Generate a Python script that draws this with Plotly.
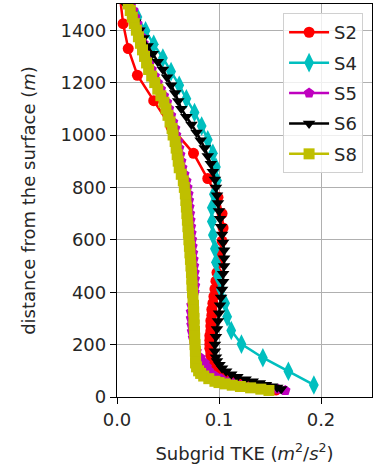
import plotly.graph_objects as go

# ---------------- data ----------------
s2_z = [1525, 1425, 1330, 1228, 1131, 1030, 930, 834, 762, 700, 645, 595, 550, 510, 475, 442,
        412, 384, 358, 334, 312, 291, 271, 252, 234, 217, 201, 186, 172, 159, 147, 136,
        125, 115, 105, 96, 87, 79, 71, 64, 57, 50, 44, 38, 32, 27]
s2_x = [0.003, 0.006, 0.011, 0.020, 0.036, 0.053, 0.075, 0.089, 0.099, 0.103, 0.104, 0.103,
        0.101, 0.099, 0.098, 0.097, 0.096, 0.095, 0.094, 0.093, 0.093, 0.092, 0.092, 0.092,
        0.091, 0.091, 0.091, 0.091, 0.092, 0.092, 0.093, 0.094, 0.095, 0.096, 0.098, 0.100,
        0.102, 0.105, 0.109, 0.114, 0.120, 0.127, 0.134, 0.141, 0.149, 0.156]

s4_z = [46, 98, 150, 202, 254, 306, 358, 410, 462, 514, 566, 618, 670, 722, 774, 826,
        878, 930, 982, 1034, 1086, 1138, 1190, 1242, 1294, 1346, 1398, 1450, 1502]
s4_x = [0.193, 0.168, 0.143, 0.122, 0.112, 0.108, 0.106, 0.102, 0.099, 0.097, 0.096, 0.094,
        0.093, 0.093, 0.095, 0.098, 0.097, 0.094, 0.089, 0.083, 0.076, 0.068, 0.061, 0.053,
        0.045, 0.036, 0.028, 0.020, 0.013]

s8_z = [25, 30, 35, 40, 45, 50, 55, 60, 70, 80, 90, 100, 115, 130, 150,
        175, 200, 225, 250, 275, 300, 325, 350, 375, 400, 425, 450, 475, 500, 525, 550,
        575, 600, 625, 650, 675, 700, 725, 750, 775, 800, 825, 850, 875, 900, 925, 950,
        975, 1000, 1025, 1050, 1075, 1100, 1125, 1150, 1175, 1200, 1225, 1250, 1275, 1300,
        1325, 1350, 1375, 1400, 1425, 1450, 1475, 1500]
s8_x = [0.149, 0.141, 0.131, 0.121, 0.113, 0.106, 0.100, 0.096, 0.090, 0.085, 0.082, 0.080,
        0.078, 0.077, 0.077,
        0.0768, 0.0765, 0.0762, 0.0760, 0.0757, 0.0755, 0.0752, 0.0750, 0.0745, 0.0740,
        0.0736, 0.0733, 0.0730, 0.0725, 0.0720, 0.0715, 0.0710, 0.0705, 0.0700, 0.0695,
        0.0690, 0.0685, 0.0680, 0.0675, 0.0670, 0.0660, 0.0650, 0.0630, 0.0610, 0.0600,
        0.0590, 0.0580, 0.0570, 0.0550, 0.0540, 0.0520, 0.0500, 0.0480, 0.0460, 0.0430,
        0.0400, 0.0370, 0.0340, 0.0310, 0.0290, 0.0270, 0.0250, 0.0230, 0.0210, 0.0190,
        0.0170, 0.0150, 0.0130, 0.0110]

s5_z = s8_z
s5_x = [0.165, 0.158, 0.150, 0.141, 0.132, 0.124, 0.116, 0.110, 0.102, 0.096, 0.092, 0.090,
        0.088, 0.086, 0.082,
        0.0780, 0.0760, 0.0745, 0.0735, 0.0730, 0.0725, 0.0725, 0.0730, 0.0740, 0.0760,
        0.0765, 0.0763, 0.0760, 0.0755, 0.0750, 0.0745, 0.0740, 0.0735, 0.0730, 0.0725,
        0.0720, 0.0715, 0.0710, 0.0705, 0.0700, 0.0690, 0.0680, 0.0660, 0.0640, 0.0630,
        0.0620, 0.0610, 0.0600, 0.0580, 0.0570, 0.0550, 0.0530, 0.0510, 0.0490, 0.0460,
        0.0430, 0.0400, 0.0370, 0.0340, 0.0320, 0.0300, 0.0280, 0.0260, 0.0240, 0.0220,
        0.0200, 0.0180, 0.0160, 0.0140]

s6_z = [31, 36, 41, 47, 53, 60, 68, 77, 87, 98, 110, 123, 137, 152, 175,
        200, 230, 260, 290, 320, 350, 380, 410, 440, 470, 500, 530, 560, 590, 620, 650,
        680, 710, 740, 770, 800, 830, 860, 890, 920, 950, 980, 1010, 1040, 1070, 1100,
        1130, 1160, 1190, 1220, 1250, 1280, 1310, 1340, 1370, 1400, 1430, 1460, 1490]
s6_x = [0.161, 0.157, 0.152, 0.146, 0.140, 0.133, 0.126, 0.118, 0.112, 0.107, 0.103, 0.1005,
        0.098, 0.097, 0.096,
        0.096, 0.097, 0.098, 0.099, 0.100, 0.101, 0.102, 0.103, 0.104, 0.104, 0.105, 0.105,
        0.105, 0.104, 0.103, 0.102, 0.101, 0.100, 0.099, 0.098, 0.097, 0.096, 0.094, 0.092,
        0.089, 0.086, 0.082, 0.078, 0.073, 0.068, 0.063, 0.060, 0.057, 0.053, 0.049, 0.045,
        0.040, 0.035, 0.030, 0.026, 0.022, 0.018, 0.014, 0.010]

series = [
    ("S2", s2_x, s2_z, "#ff0000", "circle", 11),
    ("S4", s4_x, s4_z, "#00bfbf", "diamond-tall", 14),
    ("S5", s5_x, s5_z, "#bf00bf", "pentagon", 11),
    ("S6", s6_x, s6_z, "#000000", "triangle-down", 11),
    ("S8", s8_x, s8_z, "#bfbf00", "square", 11),
]

fig = go.Figure()
for name, xs, zs, col, sym, msize in series:
    fig.add_trace(go.Scatter(
        x=xs, y=zs, name=name, mode="lines+markers", legendgroup=name,
        line=dict(color=col, width=2.5),
        marker=dict(color=col, symbol=sym, size=msize, line=dict(width=0)),
    ))

font = dict(family="DejaVu Sans", size=18, color="#262626")
axis_common = dict(
    showline=True, mirror=True, linecolor="black", linewidth=1.3,
    ticks="outside", ticklen=6, tickwidth=1.3, tickcolor="black",
    showgrid=True, gridcolor="#b0b0b0", gridwidth=1.2, zeroline=False,
    tickfont=font,
)
fig.update_layout(
    width=374, height=466,
    margin=dict(l=117, r=2, t=4, b=69),
    plot_bgcolor="white", paper_bgcolor="white",
    font=font,
    xaxis=dict(range=[0, 0.25], dtick=0.1, tick0=0, tickformat=".1f",
               title=dict(text="Subgrid TKE (<i>m</i><sup>2</sup>/<i>s</i><sup>2</sup>)",
                          font=font, standoff=18),
               **axis_common),
    yaxis=dict(range=[0, 1500], dtick=200, tick0=0,
               title=dict(text="distance from the surface (<i>m</i>)", font=font, standoff=20),
               **axis_common),
    legend=dict(x=0.965, y=0.977, xanchor="right", yanchor="top",
                bgcolor="rgba(255,255,255,0.8)", bordercolor="#d0d0d0", borderwidth=1,
                font=font, tracegroupgap=4, itemwidth=40),
    showlegend=True,
)
fig.write_html("out.html")
